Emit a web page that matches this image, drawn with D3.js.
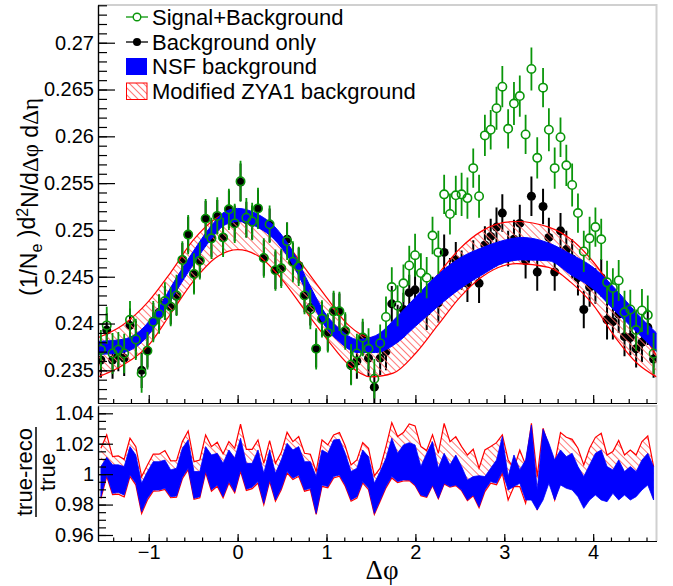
<!DOCTYPE html>
<html>
<head>
<meta charset="utf-8">
<script src="https://cdn.jsdelivr.net/npm/d3@7"></script>
<style>
body { margin: 0; background: #fff; }
text { font-family: "Liberation Sans", Arial, Helvetica, sans-serif; }
.gr { font-family: "Liberation Serif", "DejaVu Serif", serif; }
</style>
</head>
<body>
<svg id="c" width="673" height="586"></svg>
<script>
// ---- data ----
var nBins = 96;

// Signal+Background (green open circles)
var sgVal = [0.2372,0.2398,0.2368,0.2372,0.2368,0.2404,0.2383,0.2347,0.2371,0.2402,
  0.2410,0.2424,0.2418,0.2430,0.2468,0.2495,0.2453,0.2467,0.2512,0.2491,
  0.2515,0.2492,0.2522,0.2507,0.2552,0.2513,0.2509,0.2523,0.2470,0.2506,
  0.2457,0.2459,0.2488,0.2466,0.2461,0.2430,0.2415,0.2373,0.2405,0.2390,
  0.2413,0.2413,0.2392,0.2356,0.2368,0.2385,0.2373,0.2341,0.2379,0.2407,
  0.2439,0.2419,0.2443,0.2462,0.2473,0.2454,0.2449,0.2494,0.2476,0.2538,
  0.2517,0.2537,0.2538,0.2534,0.2566,0.2536,0.2601,0.2607,0.2630,0.2653,
  0.2608,0.2635,0.2643,0.2602,0.2672,0.2577,0.2652,0.2607,0.2566,0.2599,
  0.2569,0.2548,0.2518,0.2477,0.2491,0.2503,0.2490,0.2444,0.2438,0.2446,
  0.2412,0.2415,0.2393,0.2414,0.2409,0.2368];
var sgErr = [0.0021,0.0020,0.0022,0.0019,0.0021,0.0020,0.0022,0.0021,0.0020,0.0022,
  0.0021,0.0020,0.0021,0.0022,0.0020,0.0021,0.0022,0.0020,0.0021,0.0022,
  0.0020,0.0021,0.0022,0.0021,0.0022,0.0021,0.0020,0.0022,0.0021,0.0020,
  0.0022,0.0021,0.0020,0.0022,0.0021,0.0020,0.0021,0.0022,0.0020,0.0021,
  0.0022,0.0021,0.0020,0.0022,0.0021,0.0020,0.0022,0.0021,0.0020,0.0022,
  0.0021,0.0022,0.0020,0.0021,0.0023,0.0021,0.0022,0.0020,0.0023,0.0021,
  0.0022,0.0021,0.0023,0.0022,0.0021,0.0023,0.0022,0.0021,0.0023,0.0022,
  0.0021,0.0023,0.0022,0.0021,0.0023,0.0022,0.0021,0.0023,0.0022,0.0021,
  0.0022,0.0023,0.0021,0.0022,0.0023,0.0021,0.0022,0.0023,0.0021,0.0022,
  0.0023,0.0021,0.0022,0.0023,0.0021,0.0022];

// Background only (black dots)
var bgVal = [0.2361,0.2393,0.2361,0.2366,0.2363,0.2398,0.2383,0.2350,0.2371,0.2402,
  0.2412,0.2422,0.2418,0.2429,0.2468,0.2495,0.2453,0.2467,0.2512,0.2491,
  0.2514,0.2492,0.2522,0.2507,0.2551,0.2511,0.2508,0.2523,0.2470,0.2505,
  0.2457,0.2459,0.2490,0.2466,0.2462,0.2430,0.2417,0.2373,0.2405,0.2390,
  0.2413,0.2413,0.2392,0.2355,0.2360,0.2384,0.2363,0.2332,0.2363,0.2370,
  0.2421,0.2400,0.2415,0.2433,0.2436,0.2425,0.2413,0.2432,0.2422,0.2476,
  0.2450,0.2468,0.2457,0.2443,0.2470,0.2443,0.2484,0.2493,0.2503,0.2518,
  0.2480,0.2490,0.2507,0.2467,0.2536,0.2455,0.2525,0.2492,0.2455,0.2499,
  0.2479,0.2469,0.2449,0.2415,0.2439,0.2440,0.2449,0.2404,0.2402,0.2410,
  0.2386,0.2385,0.2373,0.2380,0.2396,0.2362];
var bgErr = [0.0019,0.0018,0.0020,0.0017,0.0019,0.0018,0.0020,0.0019,0.0018,0.0020,
  0.0019,0.0018,0.0019,0.0020,0.0018,0.0019,0.0020,0.0018,0.0019,0.0020,
  0.0018,0.0019,0.0020,0.0019,0.0020,0.0019,0.0018,0.0020,0.0019,0.0018,
  0.0020,0.0019,0.0018,0.0020,0.0019,0.0018,0.0019,0.0020,0.0018,0.0019,
  0.0020,0.0019,0.0018,0.0020,0.0019,0.0018,0.0020,0.0019,0.0018,0.0020,
  0.0019,0.0020,0.0018,0.0019,0.0021,0.0019,0.0020,0.0018,0.0021,0.0019,
  0.0020,0.0019,0.0021,0.0020,0.0019,0.0021,0.0020,0.0019,0.0021,0.0020,
  0.0019,0.0021,0.0020,0.0019,0.0021,0.0020,0.0019,0.0021,0.0020,0.0019,
  0.0020,0.0021,0.0019,0.0020,0.0021,0.0019,0.0020,0.0021,0.0019,0.0020,
  0.0021,0.0019,0.0020,0.0021,0.0019,0.0020];

// NSF background band
var nsfPhi = [-1.571,-1.3,-1.1,-0.9,-0.7,-0.5,-0.3,-0.15,0,0.2,0.45,0.65,0.8,1.0,1.15,1.35,1.55,1.8,2.0,2.25,2.5,2.75,3.0,3.2,3.5,3.75,4.0,4.25,4.5,4.712];
var nsfHi = [0.2381,0.2383,0.2392,0.2415,0.2447,0.2477,0.2504,0.2519,0.2523,0.2518,0.2500,0.2472,0.2443,0.2409,0.2394,0.2383,0.2387,0.2408,0.2428,0.2452,0.2470,0.2481,0.2489,0.2492,0.2486,0.2474,0.2460,0.2437,0.2410,0.2390];
var nsfLo = [0.2367,0.2369,0.2378,0.2401,0.2433,0.2463,0.2490,0.2505,0.2509,0.2504,0.2486,0.2458,0.2429,0.2395,0.2380,0.2369,0.2369,0.2380,0.2397,0.2418,0.2437,0.2452,0.2465,0.2468,0.2467,0.2452,0.2437,0.2413,0.2390,0.2370];

// Modified ZYA1 background band
var zyaPhi = [-1.571,-1.3,-1.0,-0.75,-0.5,-0.25,0,0.25,0.5,0.75,1.0,1.25,1.5,1.75,2.0,2.25,2.5,2.75,3.0,3.14,3.5,3.75,4.0,4.25,4.5,4.712];
var zyaHi = [0.2385,0.2398,0.2424,0.2455,0.2489,0.2512,0.2521,0.2514,0.2492,0.2460,0.2428,0.2398,0.2385,0.2393,0.2420,0.2452,0.2480,0.2499,0.2508,0.2509,0.2503,0.2490,0.2466,0.2433,0.2397,0.2366];
var zyaLo = [0.2343,0.2355,0.2377,0.2411,0.2445,0.2470,0.2479,0.2471,0.2447,0.2415,0.2384,0.2356,0.2343,0.2347,0.2368,0.2398,0.2428,0.2450,0.2462,0.2464,0.2460,0.2444,0.2420,0.2385,0.2357,0.2343];

// ratio panel, per bin
var ratioBlueHi = [1.0050,1.0111,1.0061,1.0061,1.0050,1.0181,1.0126,0.9940,1.0017,1.0082,
  1.0082,1.0093,1.0028,1.0039,1.0170,1.0225,1.0017,1.0017,1.0181,1.0126,
  1.0137,1.0071,1.0159,1.0104,1.0236,1.0071,1.0071,1.0159,1.0006,1.0159,
  1.0006,1.0093,1.0203,1.0159,1.0181,1.0082,1.0082,0.9984,1.0159,1.0137,
  1.0225,1.0229,1.0137,1.0017,1.0039,1.0159,1.0115,0.9940,1.0017,1.0104,
  1.0236,1.0137,1.0192,1.0207,1.0192,1.0050,1.0137,1.0214,1.0039,1.0137,
  1.0061,1.0126,1.0050,0.9962,0.9984,0.9990,0.9984,1.0039,1.0093,1.0247,
  0.9984,1.0126,1.0028,1.0093,1.0323,0.9896,1.0295,1.0203,1.0093,1.0159,
  1.0115,1.0137,1.0050,0.9984,1.0061,1.0137,1.0159,1.0050,1.0028,1.0093,
  1.0017,1.0050,1.0017,1.0093,1.0137,1.0050];
var ratioBlueLo = [0.9852,0.9995,0.9874,0.9879,0.9863,0.9995,0.9940,0.9753,0.9841,0.9896,
  0.9896,0.9907,0.9852,0.9856,0.9979,1.0039,0.9841,0.9852,1.0021,0.9896,
  0.9929,0.9852,0.9951,0.9885,1.0028,0.9901,0.9914,0.9951,0.9808,0.9962,
  0.9830,0.9907,1.0017,0.9973,0.9995,0.9896,0.9907,0.9742,0.9929,0.9918,
  0.9984,0.9995,0.9929,0.9830,0.9852,0.9951,0.9907,0.9742,0.9830,0.9918,
  0.9984,0.9951,0.9962,0.9962,0.9929,0.9863,0.9852,0.9929,0.9841,0.9940,
  0.9918,0.9929,0.9896,0.9830,0.9863,0.9786,0.9896,0.9951,0.9940,1.0017,
  0.9896,0.9918,0.9940,0.9830,0.9830,0.9764,0.9830,0.9940,0.9830,0.9929,
  0.9907,0.9896,0.9852,0.9775,0.9830,0.9863,0.9830,0.9819,0.9874,0.9830,
  0.9863,0.9830,0.9852,0.9896,0.9929,0.9830];
var ratioRedHi = [1.0170,1.0258,1.0115,1.0120,1.0098,1.0236,1.0181,0.9984,1.0060,1.0131,
  1.0131,1.0155,1.0087,1.0089,1.0214,1.0284,1.0082,1.0093,1.0258,1.0181,
  1.0210,1.0133,1.0214,1.0170,1.0328,1.0163,1.0163,1.0225,1.0071,1.0220,
  1.0071,1.0142,1.0275,1.0214,1.0247,1.0137,1.0131,1.0017,1.0225,1.0192,
  1.0258,1.0273,1.0185,1.0060,1.0093,1.0207,1.0170,0.9988,1.0039,1.0181,
  1.0339,1.0247,1.0273,1.0330,1.0317,1.0181,1.0155,1.0258,1.0137,1.0334,
  1.0214,1.0247,1.0181,1.0126,1.0164,1.0039,1.0159,1.0181,1.0207,1.0258,
  1.0093,1.0039,1.0159,1.0061,1.0334,0.9984,1.0302,1.0181,1.0071,1.0273,
  1.0242,1.0229,1.0170,1.0061,1.0170,1.0242,1.0269,1.0126,1.0148,1.0221,
  1.0126,1.0159,1.0126,1.0214,1.0251,1.0050];
var ratioRedLo = [0.9840,0.9985,0.9865,0.9868,0.9850,0.9985,0.9930,0.9742,0.9830,0.9888,
  0.9890,0.9900,0.9845,0.9848,0.9970,1.0030,0.9835,0.9845,1.0010,0.9888,
  0.9920,0.9845,0.9942,0.9878,1.0018,0.9893,0.9905,0.9942,0.9800,0.9952,
  0.9822,0.9898,1.0008,0.9965,0.9986,0.9888,0.9898,0.9735,0.9920,0.9910,
  0.9975,0.9986,0.9920,0.9822,0.9843,0.9943,0.9898,0.9735,0.9822,0.9910,
  0.9975,0.9945,0.9955,0.9958,0.9925,0.9858,0.9848,0.9925,0.9838,0.9935,
  0.9914,0.9925,0.9892,0.9826,0.9858,0.9780,0.9885,0.9940,0.9930,1.0005,
  0.9830,0.9918,0.9918,0.9808,0.9995,0.9764,0.9960,0.9980,0.9830,0.9960,
  1.0032,1.0019,0.9960,0.9851,0.9960,1.0032,1.0059,0.9916,0.9938,1.0011,
  0.9916,0.9949,0.9916,1.0004,1.0041,0.9840];

var yTopTicks = [0.235, 0.24, 0.245, 0.25, 0.255, 0.26, 0.265, 0.27];
var yBotTicks = [0.96, 0.98, 1, 1.02, 1.04];
var xTicks = [-1, 0, 1, 2, 3, 4];
var legendLabels = ["Signal+Background", "Background only", "NSF background", "Modified ZYA1 background"];

// ---- layout ----
var green = "#0a960a", blue = "#0000ff", red = "#ff0000";
var L = 98, R = 656.5, T1 = 5, B1 = 403, T2 = 406, B2 = 541;

var phi = d3.range(nBins).map(function (i) { return -Math.PI / 2 + (i + 0.5) * 2 * Math.PI / nBins; });

var x = d3.scaleLinear().domain([-Math.PI / 2, 1.5 * Math.PI]).range([L, R]);
var yT = d3.scaleLinear().domain([0.23151, 0.27403]).range([B1, T1]);
var yB = d3.scaleLinear().domain([0.95605, 1.0448]).range([B2, T2]);

var svg = d3.select("#c");
var defs = svg.append("defs");
defs.append("clipPath").attr("id", "clipT").append("rect")
    .attr("x", L).attr("y", T1).attr("width", R - L).attr("height", B1 - T1);
defs.append("clipPath").attr("id", "clipB").append("rect")
    .attr("x", L).attr("y", T2).attr("width", R - L).attr("height", B2 - T2);
var pat = defs.append("pattern").attr("id", "hatch").attr("patternUnits", "userSpaceOnUse")
    .attr("width", 5).attr("height", 5).attr("patternTransform", "rotate(-45)");
pat.append("line").attr("x1", 2.5).attr("y1", -1).attr("x2", 2.5).attr("y2", 6)
    .attr("stroke", "#ff6a6a").attr("stroke-width", 0.9);

// gray frame (top / right)
[[T1, B1], [T2, B2]].forEach(function (p) {
    svg.append("path").attr("d", "M" + L + "," + p[0] + "H" + R + "V" + p[1])
        .attr("fill", "none").attr("stroke", "#d0d0d0").attr("stroke-width", 2);
});

// ---- top panel ----
var gT = svg.append("g").attr("clip-path", "url(#clipT)");

function errBars(g, vals, errs, color, width, r) {
    g.selectAll(null).data(vals).enter().append("path")
        .attr("d", function (d, i) {
            var cx = x(phi[i]), cy = yT(d);
            return "M" + cx + "," + yT(d + errs[i]) + "V" + (cy - r) +
                "M" + cx + "," + (cy + r) + "V" + yT(d - errs[i]);
        })
        .attr("stroke", color).attr("stroke-width", width).attr("fill", "none");
}

// background only
errBars(gT, bgVal, bgErr, "#000", 2, 4);
gT.selectAll(null).data(bgVal).enter().append("circle")
    .attr("cx", function (d, i) { return x(phi[i]); })
    .attr("cy", function (d) { return yT(d); })
    .attr("r", 4.5).attr("fill", "#000");

// ZYA1 band
var zyaArea = d3.area().curve(d3.curveMonotoneX)
    .x(function (d, i) { return x(zyaPhi[i]); })
    .y0(function (d, i) { return yT(zyaLo[i]); })
    .y1(function (d) { return yT(d); });
gT.append("path").attr("d", zyaArea(zyaHi)).attr("fill", "url(#hatch)");
[zyaHi, zyaLo].forEach(function (arr) {
    gT.append("path")
        .attr("d", d3.line().curve(d3.curveMonotoneX)
            .x(function (d, i) { return x(zyaPhi[i]); })
            .y(function (d) { return yT(d); })(arr))
        .attr("fill", "none").attr("stroke", red).attr("stroke-width", 1.2);
});

// NSF band
gT.append("path")
    .attr("d", d3.area().curve(d3.curveMonotoneX)
        .x(function (d, i) { return x(nsfPhi[i]); })
        .y0(function (d, i) { return yT(nsfLo[i]); })
        .y1(function (d) { return yT(d); })(nsfHi))
    .attr("fill", blue).attr("stroke", blue).attr("stroke-width", 1);

// signal + background
errBars(gT, sgVal, sgErr, green, 1.8, 4.2);
gT.selectAll(null).data(sgVal).enter().append("circle")
    .attr("cx", function (d, i) { return x(phi[i]); })
    .attr("cy", function (d) { return yT(d); })
    .attr("r", 4.2).attr("fill", "none").attr("stroke", green).attr("stroke-width", 1.6);

// ---- bottom panel ----
var gB = svg.append("g").attr("clip-path", "url(#clipB)");
gB.append("path")
    .attr("d", d3.area()
        .x(function (d, i) { return x(phi[i]); })
        .y0(function (d, i) { return yB(ratioRedLo[i]); })
        .y1(function (d) { return yB(d); })(ratioRedHi))
    .attr("fill", "url(#hatch)");
[ratioRedHi, ratioRedLo].forEach(function (arr) {
    gB.append("path")
        .attr("d", d3.line().x(function (d, i) { return x(phi[i]); }).y(function (d) { return yB(d); })(arr))
        .attr("fill", "none").attr("stroke", red).attr("stroke-width", 1.2);
});
gB.append("path")
    .attr("d", d3.area()
        .x(function (d, i) { return x(phi[i]); })
        .y0(function (d, i) { return yB(ratioBlueLo[i]); })
        .y1(function (d) { return yB(d); })(ratioBlueHi))
    .attr("fill", blue).attr("stroke", blue).attr("stroke-width", 0.8);

// ---- axes ----
function styleAxis(g) {
    g.attr("font-family", null).attr("font-size", null);
    g.selectAll("path.domain").attr("stroke", "#000").attr("stroke-width", 1.2);
    g.selectAll("line").attr("stroke", "#000").attr("stroke-width", 1.2);
    g.selectAll("text").attr("font-size", 20).attr("fill", "#000");
}
var minorTop = d3.range(232, 275).map(function (k) { return k / 1000; });
var minorBot = d3.range(192, 209).map(function (k) { return k * 0.005; });
var minorX = d3.range(-7, 24).map(function (k) { return k / 5; });

svg.append("g").attr("transform", "translate(" + L + ",0)")
    .call(d3.axisLeft(yT).tickValues(minorTop).tickSizeInner(-9).tickSizeOuter(0).tickFormat(""))
    .call(styleAxis);
svg.append("g").attr("transform", "translate(" + L + ",0)")
    .call(d3.axisLeft(yT).tickValues(yTopTicks).tickSizeInner(-17).tickSizeOuter(0).tickPadding(4)
        .tickFormat(function (d) { return String(d); }))
    .call(styleAxis);

svg.append("g").attr("transform", "translate(" + L + ",0)")
    .call(d3.axisLeft(yB).tickValues(minorBot).tickSizeInner(-8).tickSizeOuter(0).tickFormat(""))
    .call(styleAxis);
svg.append("g").attr("transform", "translate(" + L + ",0)")
    .call(d3.axisLeft(yB).tickValues(yBotTicks).tickSizeInner(-15).tickSizeOuter(0).tickPadding(4)
        .tickFormat(function (d) { return String(d); }))
    .call(styleAxis);

svg.append("g").attr("transform", "translate(0," + B1 + ")")
    .call(d3.axisBottom(x).tickValues(minorX).tickSizeInner(-4).tickSizeOuter(0).tickFormat(""))
    .call(styleAxis);
svg.append("g").attr("transform", "translate(0," + B1 + ")")
    .call(d3.axisBottom(x).tickValues(xTicks).tickSizeInner(-8).tickSizeOuter(0).tickFormat(""))
    .call(styleAxis);

svg.append("g").attr("transform", "translate(0," + B2 + ")")
    .call(d3.axisBottom(x).tickValues(minorX).tickSizeInner(-3.5).tickSizeOuter(0).tickFormat(""))
    .call(styleAxis);
svg.append("g").attr("transform", "translate(0," + B2 + ")")
    .call(d3.axisBottom(x).tickValues(xTicks).tickSizeInner(-7).tickSizeOuter(0).tickPadding(4)
        .tickFormat(function (d) { return d < 0 ? "\u2212" + Math.abs(d) : String(d); }))
    .call(styleAxis);

// axis titles
var yTitle = svg.append("text").attr("transform", "translate(37,197) rotate(-90)")
    .attr("text-anchor", "middle").attr("font-size", 23).attr("fill", "#000");
yTitle.append("tspan").text("(1/N");
yTitle.append("tspan").attr("dy", "0.32em").attr("font-size", 16).text("e");
yTitle.append("tspan").attr("dy", "-0.32em").text(" )d");
yTitle.append("tspan").attr("dy", "-0.45em").attr("font-size", 16).text("2");
yTitle.append("tspan").attr("dy", "0.45em").text("N/d");
yTitle.append("tspan").attr("class", "gr").text("\u0394\u03c6");
yTitle.append("tspan").text(" d");
yTitle.append("tspan").attr("class", "gr").text("\u0394\u03b7");

var rTitle = svg.append("g").attr("transform", "translate(36,472) rotate(-90)");
rTitle.append("text").attr("x", 0).attr("y", -4).attr("text-anchor", "middle")
    .attr("font-size", 22).text("true-reco");
rTitle.append("line").attr("x1", -45).attr("x2", 45).attr("y1", 0).attr("y2", 0)
    .attr("stroke", "#000").attr("stroke-width", 1.5);
rTitle.append("text").attr("x", 0).attr("y", 19).attr("text-anchor", "middle")
    .attr("font-size", 22).text("true");

svg.append("text").attr("class", "gr").attr("x", 382).attr("y", 579).attr("text-anchor", "middle")
    .attr("font-size", 27).text("\u0394\u03c6");

// ---- legend ----
var leg = svg.append("g");
var legY = [17, 42, 66, 91];
leg.selectAll("text").data(legendLabels).enter().append("text")
    .attr("x", 152).attr("y", function (d, i) { return legY[i] + 8; })
    .attr("font-size", 22).attr("fill", "#000").text(function (d) { return d; });
leg.append("line").attr("x1", 126).attr("x2", 148).attr("y1", legY[0]).attr("y2", legY[0])
    .attr("stroke", green).attr("stroke-width", 1.3);
leg.append("circle").attr("cx", 137).attr("cy", legY[0]).attr("r", 3.8)
    .attr("fill", "#fff").attr("stroke", green).attr("stroke-width", 1.4);
leg.append("line").attr("x1", 126).attr("x2", 148).attr("y1", legY[1]).attr("y2", legY[1])
    .attr("stroke", "#000").attr("stroke-width", 1.3);
leg.append("circle").attr("cx", 137).attr("cy", legY[1]).attr("r", 4).attr("fill", "#000");
leg.append("rect").attr("x", 126).attr("y", legY[2] - 8).attr("width", 21).attr("height", 17)
    .attr("fill", blue);
leg.append("rect").attr("x", 126.5).attr("y", legY[3] - 8).attr("width", 20.5).attr("height", 16.5)
    .attr("fill", "url(#hatch)").attr("stroke", red).attr("stroke-width", 1);
</script>
</body>
</html>
